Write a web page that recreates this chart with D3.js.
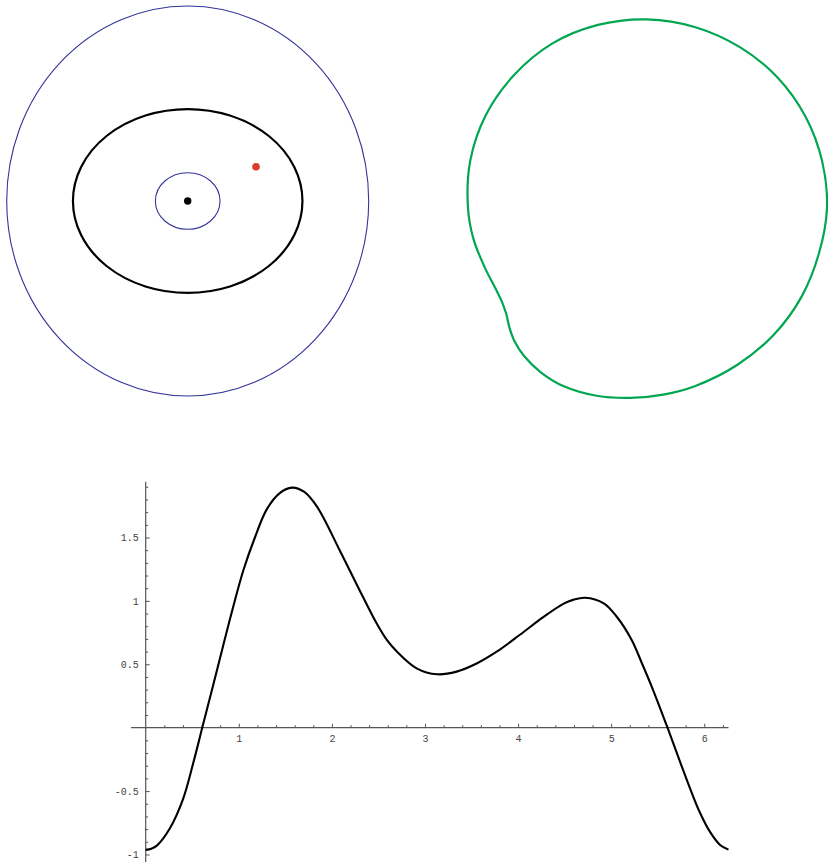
<!DOCTYPE html>
<html>
<head>
<meta charset="utf-8">
<script src="https://cdn.jsdelivr.net/npm/d3@7"></script>
<style>
  html, body { margin: 0; padding: 0; background: #fff; }
  svg { display: block; }
</style>
</head>
<body>
<svg id="chart" width="828" height="862"></svg>
<script>
// ---- Orbit panel: reference rings, orbit ellipse, focus and body ----
const ringRx = [2.0, 0.357];
const ringRy = [2.0, 0.29];
const orbitRx = 1.268;
const orbitRy = 0.943;
const focusXY = [0, 0];
const bodyXY = [0.755, 0.352];

// ---- Closed polar curve: angle (degrees, counter-clockwise) and radius ----
const loopAngle = [0, 15, 30, 45, 60, 75, 90, 105, 120, 135, 150, 165, 180, 190, 200,
  208, 213, 217, 221, 225, 230, 237, 245, 255, 265, 275, 285, 300, 315, 330, 345];
const loopRadius = [2.000, 2.014, 2.033, 2.051, 2.064, 2.080, 2.096, 2.106, 2.109, 2.089,
  2.067, 2.033, 1.989, 1.959, 1.920, 1.906, 1.920, 1.958, 2.025, 2.085, 2.135, 2.173,
  2.186, 2.160, 2.118, 2.081, 2.050, 2.011, 1.992, 1.980, 1.976];

// ---- Function plot ----
const plotT = [0, 0.06, 0.12, 0.26, 0.40, 0.51, 0.61, 0.73, 0.83, 0.94, 1.05, 1.17, 1.30,
  1.44, 1.57, 1.70, 1.84, 2.09, 2.28, 2.48, 2.59, 2.70, 2.91, 3.13, 3.34, 3.56, 3.77,
  4.02, 4.27, 4.49, 4.59, 4.72, 4.92, 5.06, 5.22, 5.33, 5.45, 5.61, 5.74, 5.85, 5.95,
  6.06, 6.17, 6.26];
const plotF = [-0.964, -0.955, -0.930, -0.793, -0.565, -0.281, 0.007, 0.350, 0.641, 0.954,
  1.244, 1.494, 1.722, 1.850, 1.893, 1.861, 1.743, 1.390, 1.110, 0.823, 0.692, 0.599,
  0.468, 0.421, 0.442, 0.508, 0.599, 0.733, 0.872, 0.978, 1.008, 1.025, 0.981, 0.875,
  0.692, 0.508, 0.297, -0.010, -0.270, -0.485, -0.665, -0.820, -0.925, -0.962];
const xMajorTicks = [1, 2, 3, 4, 5, 6];
const yMajorTicks = [-1, -0.5, 0.5, 1, 1.5];

const svg = d3.select("#chart");

// ================= Orbit panel =================
const xL = d3.scaleLinear().domain([-2, 2]).range([6.7, 368.7]);
const yL = d3.scaleLinear().domain([-2, 2]).range([396, 6]);
const gL = svg.append("g");

gL.selectAll("ellipse.ring")
  .data(d3.range(ringRx.length))
  .join("ellipse")
  .attr("class", "ring")
  .attr("cx", xL(0)).attr("cy", yL(0))
  .attr("rx", i => xL(ringRx[i]) - xL(0))
  .attr("ry", i => yL(0) - yL(ringRy[i]))
  .attr("fill", "none")
  .attr("stroke", "#34349a")
  .attr("stroke-width", 1.1);

gL.append("ellipse")
  .attr("cx", xL(0)).attr("cy", yL(0))
  .attr("rx", xL(orbitRx) - xL(0))
  .attr("ry", yL(0) - yL(orbitRy))
  .attr("fill", "none")
  .attr("stroke", "#000")
  .attr("stroke-width", 2.2);

gL.append("circle")
  .attr("cx", xL(focusXY[0])).attr("cy", yL(focusXY[1]))
  .attr("r", 3.7).attr("fill", "#000");

gL.append("circle")
  .attr("cx", xL(bodyXY[0])).attr("cy", yL(bodyXY[1]))
  .attr("r", 3.8).attr("fill", "#dd3a2c");

// ================= Closed curve panel =================
const xR = d3.scaleLinear().domain([-2, 2]).range([467, 827]);
const yR = d3.scaleLinear().domain([-2, 2]).range([388, 28]);
const loopPts = loopAngle.map((a, i) => {
  const th = a * Math.PI / 180;
  return [loopRadius[i] * Math.cos(th), loopRadius[i] * Math.sin(th)];
});

svg.append("path")
  .datum(loopPts)
  .attr("d", d3.line().x(d => xR(d[0])).y(d => yR(d[1])).curve(d3.curveCatmullRomClosed))
  .attr("fill", "none")
  .attr("stroke", "#00a651")
  .attr("stroke-width", 2.2);

// ================= Function plot =================
const xB = d3.scaleLinear().domain([0, 6.26]).range([145.7, 728.5]);
const yB = d3.scaleLinear().domain([-1.02, 1.94]).range([857, 481.7]);
const axisColor = "#555";
const fmt = d => String(d);

const gB = svg.append("g");

// axis lines
gB.append("line")
  .attr("x1", xB(-0.157)).attr("x2", xB(6.26))
  .attr("y1", yB(0)).attr("y2", yB(0))
  .attr("stroke", axisColor).attr("stroke-width", 1.2);
gB.append("line")
  .attr("x1", xB(0)).attr("x2", xB(0))
  .attr("y1", yB(1.94)).attr("y2", yB(-1.06))
  .attr("stroke", axisColor).attr("stroke-width", 1.2);

// minor and major ticks
const xMinor = d3.range(1, 32).map(i => i * 0.2).filter(v => Math.abs(v - Math.round(v)) > 1e-6);
const yMinor = d3.range(-10, 20).map(i => i / 10).filter(v => Math.abs(v * 2 - Math.round(v * 2)) > 1e-6);

const xMinorAxis = d3.axisBottom(xB).tickValues(xMinor).tickSizeInner(-2.5).tickSizeOuter(0).tickFormat("");
const xMajorAxis = d3.axisBottom(xB).tickValues(xMajorTicks).tickSizeInner(-4).tickSizeOuter(0).tickPadding(7).tickFormat(fmt);
const yMinorAxis = d3.axisLeft(yB).tickValues(yMinor).tickSizeInner(-2.5).tickSizeOuter(0).tickFormat("");
const yMajorAxis = d3.axisLeft(yB).tickValues(yMajorTicks).tickSizeInner(-4).tickSizeOuter(0).tickPadding(7).tickFormat(fmt);

function styleAxis(g) {
  g.select(".domain").remove();
  g.selectAll("line").attr("stroke", axisColor).attr("stroke-width", 1);
  g.selectAll("text")
    .attr("fill", "#444")
    .style("font-family", "'Liberation Mono', 'DejaVu Sans Mono', monospace")
    .style("font-size", "10px");
}

gB.append("g").attr("transform", `translate(0,${yB(0)})`).call(xMinorAxis).call(styleAxis);
gB.append("g").attr("transform", `translate(0,${yB(0)})`).call(xMajorAxis).call(styleAxis);
gB.append("g").attr("transform", `translate(${xB(0)},0)`).call(yMinorAxis).call(styleAxis);
gB.append("g").attr("transform", `translate(${xB(0)},0)`).call(yMajorAxis).call(styleAxis);

const plotPts = plotT.map((t, i) => [t, plotF[i]]);
gB.append("path")
  .datum(plotPts)
  .attr("d", d3.line().x(d => xB(d[0])).y(d => yB(d[1])).curve(d3.curveCatmullRom))
  .attr("fill", "none")
  .attr("stroke", "#000")
  .attr("stroke-width", 2.1);
</script>
</body>
</html>
